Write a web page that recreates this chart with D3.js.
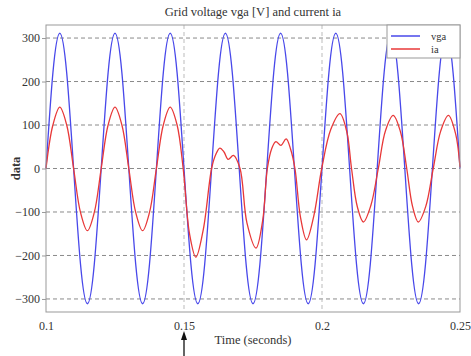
<!DOCTYPE html>
<html lang="en">
<head>
<meta charset="utf-8">
<title>Grid voltage vga and current ia</title>
<style>
  body { margin: 0; background: #fff; }
  svg text { font-family: "Liberation Serif", "DejaVu Serif", serif; fill: #333; }
  .grid line { stroke: #8a8a8a; stroke-dasharray: 4,3; stroke-width: 1; }
  .vgrid line { stroke: #bbb; stroke-dasharray: 4,3; stroke-width: 1; }
  .axis path, .axis line { stroke: #999; }
</style>
</head>
<body>
<svg id="chart" width="471" height="356"></svg>
<script src="https://d3js.org/d3.v7.min.js"></script>
<script>
// grid voltage, sampled every 2.5 ms from 0.1 s to 0.25 s
var vgaT0 = 0.1, vgaStep = 0.0025;
var vgaValues = [
  0, 220, 311, 220, 0, -220, -311, -220,
  0, 220, 311, 220, 0, -220, -311, -220,
  0, 220, 311, 220, 0, -220, -311, -220,
  0, 220, 311, 220, 0, -220, -311, -220,
  0, 220, 311, 220, 0, -220, -311, -220,
  0, 220, 311, 220, 0, -220, -311, -220,
  0, 220, 311, 220, 0, -220, -311, -220,
  0, 220, 311, 220, 0
];

// phase current
var iaTimes = [
  0.1, 0.1025, 0.105, 0.1075, 0.11, 0.1125, 0.115, 0.1175,
  0.12, 0.1225, 0.125, 0.1275, 0.13, 0.1325, 0.135, 0.1375,
  0.14, 0.1425, 0.145, 0.1475, 0.1497, 0.152, 0.1543, 0.157,
  0.16, 0.1615, 0.163, 0.1645, 0.166, 0.1679, 0.1703, 0.1728,
  0.1761, 0.1785, 0.1802, 0.1818, 0.1833, 0.1851, 0.187, 0.1886,
  0.1902, 0.1922, 0.1944, 0.197, 0.1999, 0.2032, 0.2065, 0.209,
  0.2107, 0.2128, 0.215, 0.2177, 0.2204, 0.223, 0.2258, 0.2284,
  0.2307, 0.2328, 0.2349, 0.2376, 0.2403, 0.243, 0.2458, 0.2484, 0.25
];
var iaValues = [
  0, 100, 141, 100, 0, -101, -143, -101,
  0, 100, 141, 100, 0, -101, -143, -101,
  0, 100, 141, 100, 0, -150, -204, -140,
  0, 32, 47, 38, 21, 30, 0, -125,
  -183, -120, 0, 46, 62, 53, 68, 45,
  0, -112, -164, -110, 0, 90, 126, 84,
  0, -88, -123, -85, 0, 87, 122, 85,
  0, -87, -123, -87, 0, 86, 122, 80, 3
];

var yTicks = [-300, -200, -100, 0, 100, 200, 300];
var xTicks = [0.1, 0.15, 0.2, 0.25];
var seriesNames = ["vga", "ia"];
var seriesColors = ["#4848ea", "#e83838"];

var svg = d3.select("#chart"),
    margin = {top: 25, right: 11, bottom: 44, left: 46},
    width = +svg.attr("width") - margin.left - margin.right,
    height = +svg.attr("height") - margin.top - margin.bottom;

var x = d3.scaleLinear().domain([0.1, 0.25]).range([0, width]);
var y = d3.scaleLinear().domain([-330, 330]).range([height, 0]);

var g = svg.append("g").attr("transform", "translate(" + margin.left + "," + margin.top + ")");

// grid
g.append("g").attr("class", "grid")
  .selectAll("line").data(yTicks).enter().append("line")
  .attr("x1", 0).attr("x2", width)
  .attr("y1", function(d) { return y(d); }).attr("y2", function(d) { return y(d); });

g.append("g").attr("class", "vgrid")
  .selectAll("line").data([0.15, 0.2]).enter().append("line")
  .attr("y1", 0).attr("y2", height)
  .attr("x1", function(d) { return x(d); }).attr("x2", function(d) { return x(d); });

// series
var vgaData = vgaValues.map(function(v, i) { return [vgaT0 + i * vgaStep, v]; });
var iaData = iaTimes.map(function(t, i) { return [t, iaValues[i]]; });

var line = d3.line()
  .x(function(d) { return x(d[0]); })
  .y(function(d) { return y(d[1]); })
  .curve(d3.curveNatural);

var lineI = d3.line()
  .x(function(d) { return x(d[0]); })
  .y(function(d) { return y(d[1]); })
  .curve(d3.curveCatmullRom.alpha(0.5));

g.append("path").datum(vgaData)
  .attr("fill", "none").attr("stroke", seriesColors[0]).attr("stroke-width", 1.3)
  .attr("d", line);

g.append("path").datum(iaData)
  .attr("fill", "none").attr("stroke", seriesColors[1]).attr("stroke-width", 1.3)
  .attr("d", lineI);

// frame
g.append("rect").attr("width", width).attr("height", height)
  .attr("fill", "none").attr("stroke", "#999");

// axes
var xAxis = g.append("g").attr("class", "axis")
  .attr("transform", "translate(0," + height + ")")
  .call(d3.axisBottom(x).tickValues(xTicks).tickSize(0).tickPadding(9)
    .tickFormat(function(d) { return String(d); }));
xAxis.select(".domain").remove();
xAxis.selectAll("text").style("font-size", "12px");

var yAxis = g.append("g").attr("class", "axis")
  .call(d3.axisLeft(y).tickValues(yTicks).tickSize(4).tickPadding(2));
yAxis.select(".domain").remove();
yAxis.selectAll("text").style("font-size", "12px");

// title and labels
svg.append("text")
  .attr("x", margin.left + width / 2).attr("y", 16)
  .attr("text-anchor", "middle").style("font-size", "12.5px")
  .text("Grid voltage vga [V] and current ia");

svg.append("text")
  .attr("x", margin.left + width / 2).attr("y", 344)
  .attr("text-anchor", "middle").style("font-size", "12.5px")
  .text("Time (seconds)");

svg.append("text")
  .attr("transform", "translate(20," + (margin.top + height / 2) + ") rotate(-90)")
  .attr("text-anchor", "middle").style("font-size", "12.5px").style("font-weight", "bold")
  .text("data");

// arrow marking the event at 0.15 s
var ax = margin.left + x(0.15);
svg.append("line")
  .attr("x1", ax).attr("x2", ax).attr("y1", 356).attr("y2", 338)
  .attr("stroke", "#111").attr("stroke-width", 1.3);
svg.append("path")
  .attr("d", "M" + (ax - 3) + ",340 L" + ax + ",331 L" + (ax + 3) + ",340 Z")
  .attr("fill", "#111");

// legend
var leg = g.append("g").attr("transform", "translate(" + (width - 73) + ",0)");
leg.append("rect").attr("width", 73).attr("height", 33)
  .attr("fill", "#fff").attr("stroke", "#999");
seriesNames.forEach(function(name, i) {
  var ly = 11 + i * 13;
  leg.append("line").attr("x1", 4).attr("x2", 33).attr("y1", ly).attr("y2", ly)
    .attr("stroke", seriesColors[i]).attr("stroke-width", 1.5);
  leg.append("text").attr("x", 44).attr("y", ly + 3.5)
    .style("font-size", "10.5px").text(name);
});
</script>
</body>
</html>
